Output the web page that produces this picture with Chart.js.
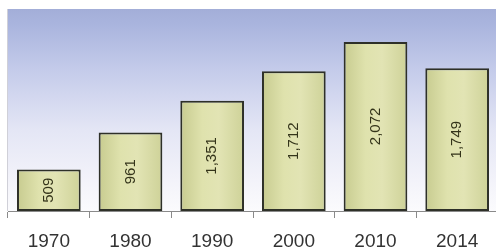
<!DOCTYPE html>
<html>
<head>
<meta charset="utf-8">
<script src="https://cdn.jsdelivr.net/npm/chart.js@4/dist/chart.umd.min.js"></script>
<style>
html,body{margin:0;padding:0;background:#fff;overflow:hidden;width:496px;height:252px;}
#wrap{position:absolute;left:0;top:0;width:500px;height:252px;}
</style>
</head>
<body>
<div id="wrap"><canvas id="c" width="500" height="252"></canvas></div>
<script>
const categories = ["1970","1980","1990","2000","2010","2014"];
const values = [509, 961, 1351, 1712, 2072, 1749];
const valueLabels = ["509","961","1,351","1,712","2,072","1,749"];

const bgPlugin = {
  id: 'plotBg',
  beforeDraw(chart) {
    const {ctx, chartArea: a} = chart;
    const g = ctx.createLinearGradient(0, a.top, 0, a.bottom);
    g.addColorStop(0, '#a3aed8');
    g.addColorStop(0.08, '#aab5de');
    g.addColorStop(0.3, '#c4cbea');
    g.addColorStop(0.6, '#e4e6f5');
    g.addColorStop(0.85, '#f3f3fa');
    g.addColorStop(1, '#fbfbfd');
    ctx.save();
    ctx.fillStyle = g;
    ctx.fillRect(a.left, a.top, a.right - a.left, a.bottom - a.top);
    ctx.strokeStyle = '#d0d0d8';
    ctx.lineWidth = 1;
    ctx.beginPath();
    ctx.moveTo(a.left - 0.5, a.top);
    ctx.lineTo(a.left - 0.5, a.bottom);
    ctx.stroke();
    ctx.restore();
  }
};

const labelPlugin = {
  id: 'barLabels',
  afterDatasetsDraw(chart) {
    const {ctx} = chart;
    const meta = chart.getDatasetMeta(0);
    ctx.save();
    ctx.font = '15px "Liberation Sans", "Open Sans", sans-serif';
    ctx.fillStyle = '#34341a';
    ctx.textAlign = 'center';
    ctx.textBaseline = 'middle';
    meta.data.forEach((bar, i) => {
      const cy = (bar.y + bar.base) / 2;
      ctx.save();
      ctx.translate(bar.x, cy);
      ctx.rotate(-Math.PI / 2);
      ctx.fillText(valueLabels[i], 0, 0);
      ctx.restore();
    });
    ctx.restore();
  }
};

function barFill(context) {
  const chart = context.chart;
  const xs = chart.scales && chart.scales.x;
  if (!xs || !chart.chartArea) return '#d9dba4';
  const cx = xs.getPixelForValue(context.dataIndex);
  const half = 33;
  const g = chart.ctx.createLinearGradient(cx - half, 0, cx + half, 0);
  g.addColorStop(0, '#c6ca8e');
  g.addColorStop(0.35, '#dfe2ad');
  g.addColorStop(0.6, '#e2e4b4');
  g.addColorStop(1, '#cdd197');
  return g;
}

new Chart(document.getElementById('c'), {
  type: 'bar',
  data: {
    labels: categories,
    datasets: [{
      data: values,
      backgroundColor: barFill,
      borderColor: '#2e3028',
      borderWidth: 2,
      borderSkipped: false,
      categoryPercentage: 0.78,
      barPercentage: 1.0
    }]
  },
  options: {
    responsive: false,
    animation: false,
    devicePixelRatio: 1,
    layout: {padding: {left: 8, top: 9, right: 2, bottom: 0}},
    plugins: {legend: {display: false}, tooltip: {enabled: false}},
    scales: {
      x: {
        afterFit(scale) { scale.height = 41; },
        grid: {offset: true, drawOnChartArea: false, drawTicks: true, tickLength: 7, color: '#8a8a8a', lineWidth: 1},
        border: {display: true, color: '#8a8a8a', width: 1},
        ticks: {color: '#333333', padding: 12, font: {size: 19, family: '"Liberation Sans", "Open Sans", sans-serif'}, maxRotation: 0}
      },
      y: {
        display: false,
        min: 0,
        max: 2475
      }
    }
  },
  plugins: [bgPlugin, labelPlugin]
});
</script>
</body>
</html>
